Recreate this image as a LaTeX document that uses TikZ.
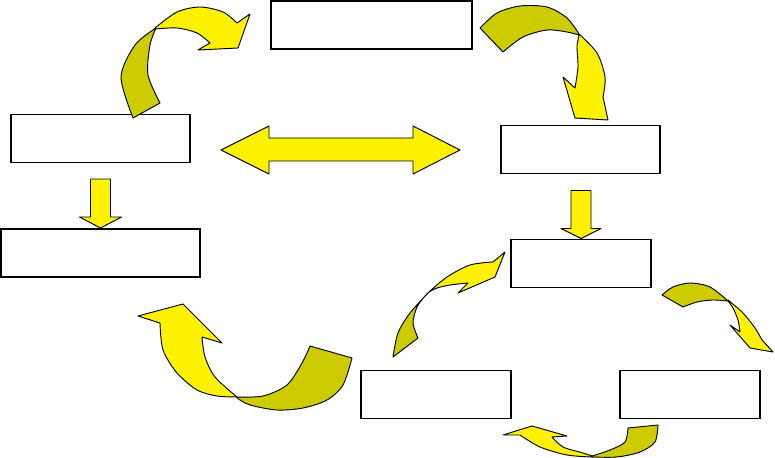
\documentclass[tikz,border=0pt]{standalone}
\usepackage{tikz}
\definecolor{darkyellow}{RGB}{204,204,0}
\tikzstyle{box}=[draw,line width=1.4pt,minimum height=1.45cm,inner sep=0pt]
\tikzstyle{bright}=[draw,fill=yellow,line width=0.8pt,line join=round]
\tikzstyle{dark}=[draw,fill=darkyellow,line width=0.8pt,line join=round]

\begin{document}
\begin{tikzpicture}[x=0.03cm,y=-0.03cm]
	\useasboundingbox (0,0) rectangle (775,458);
	% First we place the empty boxes
	\foreach \name/\x/\y/\w in {top/371.5/25/6.03, left/100.5/138.5/5.37, leftlow/100.5/253/5.97,
		right/580.5/149.5/4.77, midright/581/263.5/4.2, botleft/436/394.5/4.5, botright/690/394.5/4.2}
		\node[box,minimum width=\w cm] (\name) at (\x,\y) {};
	% Straight block arrows
	\filldraw[bright] (leftlow.north) -- ++(-21,-11) -- ++(11,0) -- ++(0,-38) -- ++(20,0) -- ++(0,38) -- ++(11,0) -- cycle;
	\filldraw[bright] (midright.north) -- ++(-20,-10) -- ++(10,0) -- ++(0,-38) -- ++(20,0) -- ++(0,38) -- ++(10,0) -- cycle;
	\filldraw[bright] (221,150) -- (269,126) -- (269,138) -- (413,138) -- (413,126) -- (460,150)
		-- (413,174) -- (413,161) -- (269,161) -- (269,174) -- cycle;
	% Curved arrows, back side first
	\filldraw[dark] (133,118) -- (160,103) -- plot[smooth] coordinates {(160,103) (148,75) (150,45) (156,28)}
		-- plot[smooth] coordinates {(156,28) (135,45) (121,77) (133,118)} -- cycle;
	\filldraw[bright] plot[smooth] coordinates {(155,28) (177,12) (200,7) (223,12) (237,23)} -- (250,14) -- (238,48)
		-- (198,50) -- (210,43) -- plot[smooth] coordinates {(210,43) (197,33) (177,28) (155,29)} -- cycle;
	\filldraw[dark] (480,28) -- (503,52) -- plot[smooth] coordinates {(503,52) (523,37) (547,30) (567,32) (579,35)}
		-- plot[smooth] coordinates {(579,34) (567,18) (547,7) (520,6) (497,13) (480,28)} -- cycle;
	\filldraw[bright] plot[smooth] coordinates {(579,34) (597,53) (605,77) (603,97)} -- (608,120) -- (575,118)
		-- (563,77) -- (575,88) -- plot[smooth] coordinates {(575,88) (578,67) (577,47) (579,35)} -- cycle;
	\filldraw[bright] (138,316) -- (183,304) -- (222,343) -- (202,337)
		-- plot[smooth] coordinates {(202,337) (205,357) (215,377) (237,397)}
		-- plot[smooth] coordinates {(237,397) (217,396) (197,390) (177,373) (163,350) (160,323)} -- cycle;
	\filldraw[dark] plot[smooth] coordinates {(237,397) (263,396) (287,385) (302,363) (310,346)} -- (352,358)
		-- plot[smooth] coordinates {(352,358) (343,385) (327,400) (303,408) (277,410) (250,405) (237,398)} -- cycle;
	\filldraw[dark] (393,357) -- (418,338) -- plot[smooth] coordinates {(418,338) (413,323) (417,307) (425,296) (429,292)}
		-- plot[smooth] coordinates {(429,292) (410,313) (398,333) (393,357)} -- cycle;
	\filldraw[bright] plot[smooth] coordinates {(429,292) (447,277) (470,265) (493,262)} -- (505,252) -- (495,277)
		-- (458,293) -- (468,283) -- plot[smooth] coordinates {(468,283) (450,285) (437,288) (429,292)} -- cycle;
	\filldraw[dark] (662,295) -- (683,307) -- plot[smooth] coordinates {(683,307) (697,302) (713,300) (728,301)}
		-- plot[smooth] coordinates {(728,301) (710,287) (690,283) (673,287) (662,295)} -- cycle;
	\filldraw[bright] plot[smooth] coordinates {(728,300) (743,313) (755,328) (762,340)} -- (773,352) -- (750,348)
		-- (730,325) -- (740,332) -- plot[smooth] coordinates {(740,332) (738,320) (733,308) (728,301)} -- cycle;
	\filldraw[dark] (628,428) -- (658,425) -- plot[smooth] coordinates {(658,425) (655,442) (640,452) (617,457) (592,457)}
		-- plot[smooth] coordinates {(592,456) (610,450) (625,442) (628,428)} -- cycle;
	\filldraw[bright] plot[smooth] coordinates {(592,457) (567,455) (540,447) (520,435)} -- (503,435) -- (532,426)
		-- (567,436) -- (552,437) -- plot[smooth] coordinates {(552,437) (563,447) (583,453) (592,456)} -- cycle;
\end{tikzpicture}
\end{document}
